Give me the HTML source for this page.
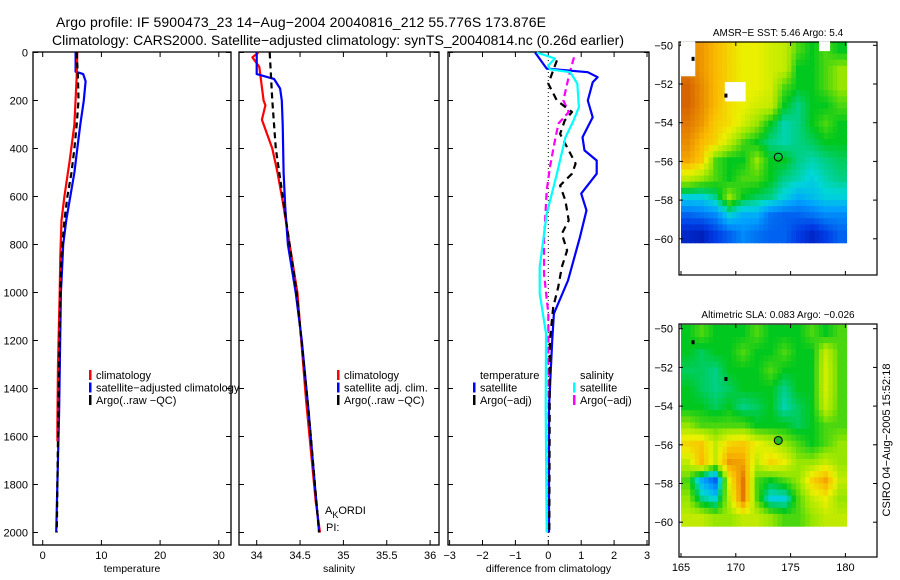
<!DOCTYPE html>
<html><head><meta charset="utf-8"><style>
html,body{margin:0;padding:0;background:#fff;}
svg{display:block;font-family:"Liberation Sans",Arial,sans-serif;}
</style></head><body>
<svg id="fig" width="900" height="580" viewBox="0 0 900 580" xmlns="http://www.w3.org/2000/svg">
<text x="56" y="27" font-size="14" textLength="490">Argo profile: IF 5900473_23 14−Aug−2004 20040816_212 55.776S 173.876E</text>
<text x="52" y="45" font-size="14" textLength="572">Climatology: CARS2000. Satellite−adjusted climatology: synTS_20040814.nc (0.26d earlier)</text>
<g id="plots"></g>
<text transform="translate(890,440) rotate(-90)" text-anchor="middle" font-size="11">CSIRO 04−Aug−2005 15:52:18</text>
</svg>
<script>
// ---------- profile data ----------
const tClimDepth = [0,100,300,450,600,700,850,1000,1300,1550,1620];
const tClimVal   = [5.9,5.8,5.4,4.6,3.7,3.2,3.0,2.9,2.6,2.5,2.5];
const tSatDepth  = [0,80,90,120,200,300,400,500,600,700,800,900,1000,1500,2000];
const tSatVal    = [5.6,5.6,6.9,7.3,7.0,6.4,5.9,5.4,4.7,4.0,3.5,3.3,3.1,2.8,2.3];
const tArgoDepth = [0,100,200,300,400,500,600,700,850,1000,1600,2000];
const tArgoVal   = [5.8,6.0,6.1,5.8,5.4,4.9,4.2,3.7,3.2,3.0,2.6,2.4];

const sClimDepth = [0,20,60,200,220,280,340,400,500,620,1000,1450,1870,2000];
const sClimVal   = [34.02,33.95,34.03,34.08,34.10,34.06,34.12,34.18,34.24,34.30,34.47,34.57,34.68,34.73];
const sSatDepth  = [0,90,110,150,200,300,500,650,800,1000,1200,1500,1800,2000];
const sSatVal    = [34.0,34.0,34.2,34.27,34.29,34.3,34.31,34.33,34.36,34.45,34.52,34.6,34.67,34.72];
const sArgoDepth = [0,200,400,600,800,1000,1500,2000];
const sArgoVal   = [34.15,34.18,34.22,34.3,34.38,34.46,34.6,34.72];

const dTSatDepth = [0,67,82,103,124,200,270,353,408,450,505,588,658,770,950,1088,1200,1480,2000];
const dTSatVal   = [-0.4,-0.05,1.2,1.5,1.35,1.2,1.35,1.04,1.1,1.47,1.47,1.0,1.16,0.96,0.6,0.17,0.12,0.02,0.02];
const dTArgoDepth= [33,130,200,248,283,339,463,505,554,617,700,755,825,894,978,1061,1200,2000];
const dTArgoVal  = [0.26,0.0,0.26,0.72,0.5,0.36,0.83,0.72,0.36,0.52,0.62,0.41,0.57,0.41,0.3,0.15,0.05,0.03];
const dSSatDepth = [0,25,54,70,82,130,228,283,354,505,672,894,1004,1171,1480,2000];
const dSSatVal   = [-0.35,0.2,0.0,0.05,0.67,0.88,0.93,0.77,0.52,0.26,-0.05,-0.26,-0.26,-0.07,-0.08,-0.05];
const dSArgoDepth= [20,75,130,200,248,296,367,478,575,783,922,1088,2000];
const dSArgoVal  = [0.78,0.67,0.57,0.46,0.62,0.31,0.2,0.05,-0.05,-0.13,-0.13,0.0,0.02];

const depthTicks = [0,200,400,600,800,1000,1200,1400,1600,1800,2000];
const tempTicks = [0,10,20,30];
const salTicks = [34,34.5,35,35.5,36];
const salTickLabels = ["34","34.5","35","35.5","36"];
const diffTicks = [-3,-2,-1,0,1,2,3];
const diffTickLabels = ["−3","−2","−1","0","1","2","3"];

// ---------- map data (colormap index 0..1), rows from -49.8 to -60.2, cols 165..180 ----------
const sstGrid = [
[.82,.8,.75,.7,.65,.65,.62,.6,.5,.45,.5,.45],
[.85,.8,.75,.7,.65,.65,.62,.6,.45,.45,.5,.55],
[.88,.82,.75,.7,.65,.65,.62,.5,.45,.45,.5,.55],
[.88,.82,.75,.68,.65,.62,.6,.45,.4,.45,.45,.5],
[.85,.8,.72,.68,.62,.55,.45,.38,.4,.45,.5,.45],
[.82,.75,.7,.6,.5,.45,.4,.38,.4,.42,.45,.45],
[.78,.72,.5,.45,.45,.55,.45,.45,.4,.38,.4,.42],
[.6,.55,.5,.45,.5,.5,.45,.4,.38,.35,.38,.4],
[.35,.35,.4,.55,.45,.42,.4,.35,.3,.32,.35,.35],
[.2,.22,.25,.35,.3,.3,.22,.2,.2,.22,.25,.25],
[.1,.08,.15,.2,.25,.22,.2,.2,.15,.1,.15,.2]
];
const slaGrid = [
[.45,.5,.45,.45,.45,.5,.45,.45,.45,.5,.45,.5],
[.45,.42,.45,.45,.5,.45,.45,.5,.45,.45,.6,.5],
[.42,.42,.4,.45,.45,.45,.5,.45,.45,.45,.62,.5],
[.45,.42,.4,.42,.45,.45,.45,.4,.45,.45,.62,.5],
[.45,.45,.42,.45,.4,.42,.45,.38,.42,.45,.6,.5],
[.55,.5,.5,.5,.5,.45,.45,.45,.42,.45,.5,.5],
[.7,.72,.6,.7,.72,.65,.6,.55,.5,.45,.5,.55],
[.6,.75,.6,.8,.78,.6,.7,.65,.55,.55,.6,.55],
[.5,.3,.2,.65,.85,.5,.45,.5,.55,.7,.78,.6],
[.55,.4,.35,.6,.85,.5,.35,.35,.5,.6,.65,.55],
[.6,.6,.55,.55,.6,.6,.55,.5,.5,.55,.6,.6]
];
const latTicks = [-50,-52,-54,-56,-58,-60];
const lonTicks = [165,170,175,180];
const argoLon = [173.876];
const argoLat = [-55.776];

const NS="http://www.w3.org/2000/svg";
const root=document.getElementById('plots');
function mk(tag,attrs,parent){const e=document.createElementNS(NS,tag);for(const k in attrs)e.setAttribute(k,attrs[k]);(parent||root).appendChild(e);return e;}

const Y0=52.5, YK=0.2400, BOT=545, TOP=52;
function yD(d){return Y0+d*YK;}

function panel(name,x0,x1,xf,ticks,labels,title,showY){
  const g=mk('g',{});
  
  
  const r=mk('rect',{x:x0,y:TOP,width:x1-x0,height:BOT-TOP,fill:'none',stroke:'#000','stroke-width':1.3},g);
  
  
  depthTicks.forEach((d,i)=>{
    const y=yD(d);
    mk('line',{x1:x0,x2:x0+5,y1:y,y2:y,stroke:'#000'},g);
    mk('line',{x1:x1-5,x2:x1,y1:y,y2:y,stroke:'#000'},g);
    if(showY){const t=mk('text',{x:x0-5,y:y+4,'font-size':11,'text-anchor':'end'},g);t.textContent=d;
      
      }
  });
  ticks.forEach((v,i)=>{
    const x=xf(v);
    mk('line',{x1:x,x2:x,y1:BOT,y2:BOT-5,stroke:'#000'},g);
    mk('line',{x1:x,x2:x,y1:TOP,y2:TOP+5,stroke:'#000'},g);
    const t=mk('text',{x:x,y:BOT+14,'font-size':11,'text-anchor':'middle'},g);t.textContent=labels[i];
    
    
  });
  const tt=mk('text',{x:(x0+x1)/2,y:572,'font-size':10.5,'text-anchor':'middle'},g);tt.textContent=title;
  
  
  return g;
}
function line(g,name,xf,depths,vals,color,dash,w){
  const pts=depths.map((d,i)=>xf(vals[i]).toFixed(1)+','+yD(d).toFixed(1)).join(' ');
  const p=mk('polyline',{points:pts,fill:'none',stroke:color,'stroke-width':w||2.2,'stroke-linejoin':'round'},g);
  if(dash)p.setAttribute('stroke-dasharray',dash);
  
  
}
function legend(g,x,y,items){
  items.forEach((it,i)=>{
    const yy=y+i*12.5;
    if(it.c){const b=mk('rect',{x:x,y:yy-6,width:2.5,height:10,fill:it.c},g);
      
      }
    const t=mk('text',{x:x+7,y:yy+3,'font-size':11},g);t.textContent=it.t;
    
    
  });
}

// panel 1 temperature
const xT=v=>42.7+v*5.87;
const g1=panel('temperature-panel',33,231,xT,tempTicks,tempTicks.map(String),'temperature',true);
line(g1,'temperature-satellite-line',xT,tSatDepth,tSatVal,'#0000ff');
line(g1,'temperature-climatology-line',xT,tClimDepth,tClimVal,'#ff0000');
line(g1,'temperature-argo-line',xT,tArgoDepth,tArgoVal,'#000','6,4');
legend(g1,89,376,[{c:'#f00',t:'climatology'},{c:'#00f',t:'satellite−adjusted climatology'},{c:'#000',t:'Argo(..raw −QC)'}]);

// panel 2 salinity
const xS=v=>256.7+(v-34)*86.7;
const g2=panel('salinity-panel',239,439,xS,salTicks,salTickLabels,'salinity',false);
line(g2,'salinity-climatology-line',xS,sClimDepth,sClimVal,'#ff0000');
line(g2,'salinity-satellite-line',xS,sSatDepth,sSatVal,'#0000ff');
line(g2,'salinity-argo-line',xS,sArgoDepth,sArgoVal,'#000','6,4');
legend(g2,337,376,[{c:'#f00',t:'climatology'},{c:'#00f',t:'satellite adj. clim.'},{c:'#000',t:'Argo(..raw −QC)'}]);
let t=mk('text',{x:325,y:514,'font-size':11},g2);t.innerHTML='A<tspan dy="4" font-size="9">K</tspan><tspan dy="-4">ORDI</tspan>';


t=mk('text',{x:326,y:531,'font-size':11},g2);t.textContent='PI:';



// panel 3 difference
const xDf=v=>548.3+v*32.9;
const g3=panel('difference-panel',448,649,xDf,diffTicks,diffTickLabels,'difference from climatology',false);
const zl=mk('line',{x1:xDf(0),x2:xDf(0),y1:TOP,y2:BOT,stroke:'#000','stroke-dasharray':'1,3'},g3);


line(g3,'diff-salinity-argo-line',xDf,dSArgoDepth,dSArgoVal,'#ff00ff','7,4');
line(g3,'diff-temperature-satellite-line',xDf,dTSatDepth,dTSatVal,'#0000ff');
line(g3,'diff-temperature-argo-line',xDf,dTArgoDepth,dTArgoVal,'#000','7,5');
line(g3,'diff-salinity-satellite-line',xDf,dSSatDepth,dSSatVal,'#00ffff');
legend(g3,473,376,[{t:'temperature'},{c:'#00f',t:'satellite'},{c:'#000',t:'Argo(−adj)'}]);
legend(g3,573,376,[{t:'salinity'},{c:'#0ff',t:'satellite'},{c:'#f0f',t:'Argo(−adj)'}]);

// maps
const palStops=[0,0.15,0.28,0.36,0.45,0.55,0.65,0.75,0.85,1];
const palCols=[[0,0,140],[0,60,230],[0,160,255],[0,215,215],[0,200,30],[150,230,0],[235,240,0],[250,185,0],[225,120,0],[170,20,0]];
function cmap(v){
  v=Math.max(0,Math.min(1,v));
  let i=0;while(i<palStops.length-2&&v>palStops[i+1])i++;
  const f=(v-palStops[i])/(palStops[i+1]-palStops[i]);
  const a=palCols[i],b=palCols[i+1];
  return 'rgb('+a.map((c,k)=>Math.round(c+(b[k]-c)*f)).join(',')+')';
}
function sample(grid,fi,fj){
  const R=grid.length-1,C=grid[0].length-1;
  fi=Math.max(0,Math.min(R,fi));fj=Math.max(0,Math.min(C,fj));
  const i0=Math.floor(fi),j0=Math.floor(fj),i1=Math.min(R,i0+1),j1=Math.min(C,j0+1);
  const a=fi-i0,b=fj-j0;
  return grid[i0][j0]*(1-a)*(1-b)+grid[i0][j1]*(1-a)*b+grid[i1][j0]*a*(1-b)+grid[i1][j1]*a*b;
}
function mapPanel(name,top,lat50y,grid,title,showX,filledDot){
  const g=mk('g',{});
  
  
  const lonX=l=>681+(l-165)*10.96;
  const latY=la=>lat50y+(-50-la)*19.35;
  const rows=grid.length, cols=grid[0].length, SUB=3;
  const lat0=-49.8, lat1=-60.2, lon0=165, lon1=180.1;
  const NR=rows*SUB, NC=cols*SUB;
  for(let i=0;i<NR;i++)for(let j=0;j<NC;j++){
    const v=sample(grid,(i+0.5)/SUB-0.5,(j+0.5)/SUB-0.5);
    const xa=lonX(lon0+(lon1-lon0)*j/NC), xb=lonX(lon0+(lon1-lon0)*(j+1)/NC);
    const ya=latY(lat0+(lat1-lat0)*i/NR), yb=latY(lat0+(lat1-lat0)*(i+1)/NR);
    const c=mk('rect',{x:xa.toFixed(1),y:ya.toFixed(1),width:(xb-xa+0.6).toFixed(1),height:(yb-ya+0.6).toFixed(1),fill:cmap(v)},g);
    
    
  }
  const bottom=top+233;
  const fr=mk('rect',{x:679,y:top,width:198,height:bottom-top,fill:'none',stroke:'#000','stroke-width':1.2},g);
  
  
  latTicks.forEach(la=>{
    const y=latY(la);
    mk('line',{x1:679,x2:683,y1:y,y2:y,stroke:'#000'},g);
    mk('line',{x1:873,x2:877,y1:y,y2:y,stroke:'#000'},g);
    const tl=mk('text',{x:673,y:y+4,'font-size':11,'text-anchor':'end'},g);tl.textContent=String(la).replace('-','−');
    
    
  });
  lonTicks.forEach(lo=>{
    const x=lonX(lo);
    mk('line',{x1:x,x2:x,y1:bottom,y2:bottom-4,stroke:'#000'},g);
    mk('line',{x1:x,x2:x,y1:top,y2:top+4,stroke:'#000'},g);
    if(showX){const tl=mk('text',{x:x,y:bottom+14,'font-size':11,'text-anchor':'middle'},g);tl.textContent=lo;
      
      }
  });
  const tt=mk('text',{x:778,y:top-6,'font-size':10,'text-anchor':'middle'},g);tt.textContent=title;
  
  
  const dot=mk('circle',{cx:lonX(argoLon[0]),cy:latY(argoLat[0]),r:4,fill:filledDot?'#22bb22':'none',stroke:'#000','stroke-width':1},g);
  
  
  return {g,lonX,latY};
}
const m1=mapPanel('sst-map',42,45.3,sstGrid,'AMSR−E SST: 5.46 Argo: 5.4',false,false);
[[165,-49.8,1.3,1.8],[169,-51.9,1.9,1.0],[177.6,-49.8,1.0,0.5]].forEach(w=>{
  const r=mk('rect',{x:m1.lonX(w[0]),y:m1.latY(w[1]),width:w[2]*10.96,height:w[3]*19.35,fill:'#fff'},m1.g);
  
  
});
[[m1,166.1,-50.7],[m1,169.1,-52.6]].forEach(p=>{
  const r=mk('rect',{x:p[0].lonX(p[1])-1.5,y:p[0].latY(p[2])-2,width:3,height:4,fill:'#000'},p[0].g);
  
  
});
const m2=mapPanel('sla-map',324,328.7,slaGrid,'Altimetric SLA: 0.083 Argo: −0.026',true,true);
[[166.1,-50.7],[169.1,-52.6]].forEach(p=>{
  const r=mk('rect',{x:m2.lonX(p[0])-1.5,y:m2.latY(p[1])-2,width:3,height:4,fill:'#000'},m2.g);
  
  
});
</script>
</body></html>
